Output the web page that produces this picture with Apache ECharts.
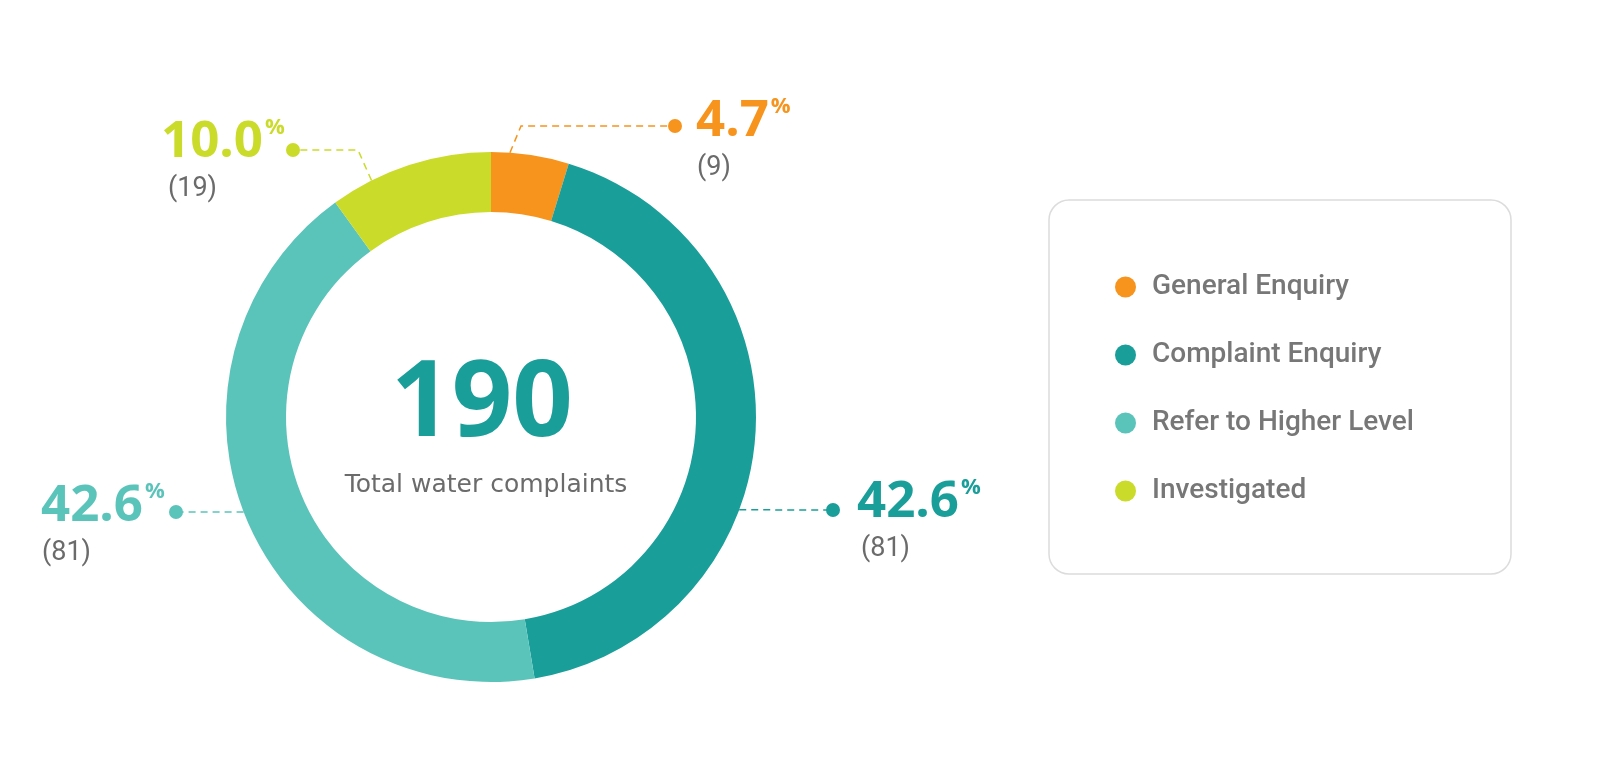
<!DOCTYPE html>
<html>
<head>
<meta charset="utf-8">
<script src="https://cdn.jsdelivr.net/npm/echarts@6/dist/echarts.min.js"></script>
<style>
html,body{margin:0;padding:0;background:#fff;}
#main{width:1600px;height:780px;}
</style>
</head>
<body>
<div id="main"></div>
<script>
// ---- data ----
const categories = ['General Enquiry', 'Complaint Enquiry', 'Refer to Higher Level', 'Investigated'];
const counts = [9, 81, 81, 19];
const centerCaption = 'Total water complaints';

// ---- style / layout ----
const colors = ['#F7941D', '#1A9E9A', '#5BC4BA', '#CADB2A'];
const CX = 491, CY = 417, R_IN = 205, R_OUT = 265;
const calloutAngles = [4.1, 110.5, 249, 333.2];            // where dashed callouts leave the ring (deg from top, clockwise)
const calloutElbows = [[521, 126], null, null, [358, 150]];
const calloutEnds = [[675, 126], [833, 510], [176, 512], [293, 150]];
const labelPos = [[696, 96], [857, 477], [41, 481], [161, 117]];
const countIndent = [1, 4, 1, 7];

const total = counts.reduce((a, b) => a + b, 0);

const graphics = [];
// legend box
graphics.push({
  type: 'rect', z: 0,
  shape: { x: 1049, y: 200, width: 462, height: 374, r: 20 },
  style: { fill: '#fff', stroke: '#dcdcdc', lineWidth: 1.5 }
});
// center text
graphics.push({
  type: 'text', z: 10,
  style: {
    x: 482, y: 406, text: String(total), align: 'center', verticalAlign: 'middle',
    fill: '#1A9E9A', font: '700 106px "Open Sans"'
  }
});
graphics.push({
  type: 'text', z: 10,
  style: {
    x: 486, y: 485, text: centerCaption, align: 'center', verticalAlign: 'middle',
    fill: '#6b6b6b', font: '400 25px "DejaVu Sans"'
  }
});
// callouts
categories.forEach((c, i) => {
  const a = calloutAngles[i] * Math.PI / 180;
  const start = [CX + R_OUT * Math.sin(a), CY - R_OUT * Math.cos(a)];
  const pts = [start];
  if (calloutElbows[i]) pts.push(calloutElbows[i]);
  pts.push(calloutEnds[i]);
  graphics.push({
    type: 'polyline', z: 5,
    shape: { points: pts },
    style: { stroke: colors[i], lineWidth: 1.5, lineDash: [7, 5], fill: null }
  });
  graphics.push({
    type: 'circle', z: 6,
    shape: { cx: calloutEnds[i][0], cy: calloutEnds[i][1], r: 7 },
    style: { fill: colors[i] }
  });
});

function richFor(i) {
  return {
    pct: { fontFamily: 'Open Sans', fontWeight: 700, fontSize: 51, lineHeight: 50 },
    sup: { fontFamily: 'Open Sans', fontWeight: 700, fontSize: 22, lineHeight: 22, verticalAlign: 'top', padding: [0, 0, 0, 2] },
    cnt: { fontFamily: 'Roboto', fontWeight: 400, fontSize: 27, lineHeight: 44, color: '#6b6b6b', padding: [0, 0, 0, countIndent[i]] }
  };
}

const chart = echarts.init(document.getElementById('main'));
chart.setOption({
  backgroundColor: '#fff',
  animation: false,
  graphic: graphics,
  legend: {
    orient: 'vertical',
    left: 1110, top: 268,
    itemWidth: 21, itemHeight: 21, itemGap: 40,
    icon: 'circle',
    selectedMode: false,
    textStyle: { fontFamily: 'Roboto', fontSize: 28, fontWeight: 500, color: '#777', lineHeight: 21, padding: [0, 0, 0, 11] },
    data: categories
  },
  series: [{
    type: 'pie',
    center: [CX, CY],
    radius: [R_IN, R_OUT],
    startAngle: 90,
    clockwise: true,
    avoidLabelOverlap: false,
    emphasis: { disabled: true },
    itemStyle: { borderWidth: 0 },
    labelLine: { show: false },
    label: {
      show: true,
      formatter: p => `{pct|${(p.value / total * 100).toFixed(1)}}{sup|%}\n{cnt|(${p.value})}`
    },
    labelLayout: p => {
      const pos = labelPos[p.dataIndex];
      return { x: pos[0], y: pos[1], align: 'left', verticalAlign: 'top' };
    },
    data: categories.map((c, i) => ({
      name: c, value: counts[i],
      itemStyle: { color: colors[i] },
      label: { color: colors[i], rich: richFor(i) }
    }))
  }]
});
</script>
</body>
</html>
